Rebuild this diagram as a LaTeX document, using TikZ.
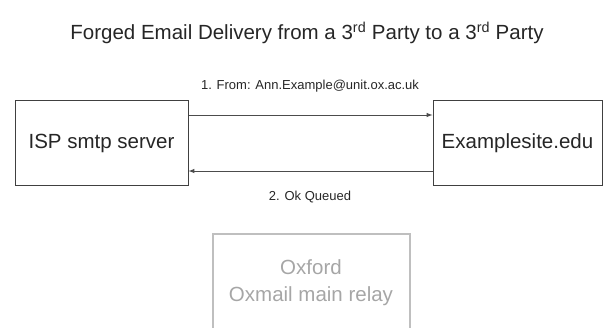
\documentclass[tikz,border=0pt]{standalone}
\usepackage{fontspec}
\setmainfont{Liberation Sans}
\begin{document}
\begin{tikzpicture}[x=1pt,y=-1pt,
  srv/.style={draw=black!75,line width=1pt,minimum width=173pt,minimum height=85pt,inner sep=0pt,font=\fontsize{20.5}{24}\selectfont,text=black!85},
  relay/.style={text=black!35,font=\fontsize{20.5}{27}\selectfont,align=center},
  lbl/.style={font=\fontsize{13}{15}\selectfont,text=black!85},
  msg/.style={draw=black!70,line width=1pt,-latex}]
\useasboundingbox (0,0) rectangle (604,327);
\node[font=\fontsize{20.5}{24}\selectfont,text=black!85] (title) at (307,33) {Forged Email Delivery from a 3\textsuperscript{rd} Party to a 3\textsuperscript{rd} Party};
\node[srv] (isp) at (101.5,143) {ISP smtp server};
\node[srv,minimum width=169pt] (ex) at (517.5,143) {Examplesite.edu};
\draw[msg] (isp.east |- 0,115) -- (ex.west |- 0,115);
\draw[msg] (ex.west |- 0,171) -- (isp.east |- 0,171);
\node[lbl] (l1) at (310,86) {1. From: Ann.Example@unit.ox.ac.uk};
\node[lbl] (l2) at (310,197) {2. Ok Queued};
\draw[draw=black!25,line width=1.2pt] (213,340) -- (213,234) -- (410,234) -- (410,340);
\node[relay] (ox) at (311,283) {Oxford\\Oxmail main relay};
\end{tikzpicture}
\end{document}
